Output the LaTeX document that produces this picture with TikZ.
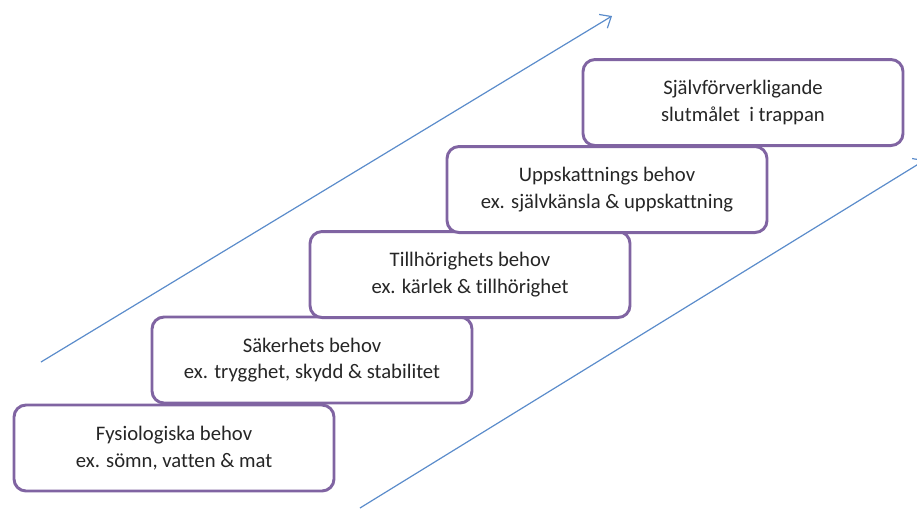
\documentclass[tikz,border=0pt]{standalone}
\usepackage{fontspec}
\setmainfont[Ligatures=NoCommon]{Carlito}
\usetikzlibrary{positioning,arrows.meta}
\definecolor{boxpurple}{HTML}{8064A2}
\definecolor{arrowblue}{HTML}{5B8CCB}

\begin{document}
\begin{tikzpicture}[x=0.75pt, y=-0.75pt,
	stepbox/.style = {draw=boxpurple, line width=2.2pt, rounded corners=9pt, fill=white,
		minimum width=240pt, minimum height=64.5pt, align=center,
		font=\fontsize{15.5}{20}\selectfont, text=black!85},
	trend/.style = {arrowblue, line width=0.9pt, -{Straight Barb[length=7pt, width=12pt]}}]
	\useasboundingbox (0,0) rectangle (917,511);
	\clip (0,0) rectangle (917,511);
	% stairs, bottom step first
	\node[stepbox] (fys) at (174,448) {Fysiologiska behov\\ex. sömn, vatten \& mat};
	\node[stepbox] (sak) [above=-0.7pt of fys, xshift=103.5pt] {Säkerhets behov\\ex. trygghet, skydd \& stabilitet};
	\node[stepbox] (till) [above=-2.6pt of sak, xshift=118.5pt] {Tillhörighets behov\\ex. kärlek \& tillhörighet};
	\node[stepbox] (upp) [above=-2.95pt of till, xshift=102.75pt] {Uppskattnings behov\\ex. självkänsla \& uppskattning};
	\node[stepbox] (sjalv) [above=-1.45pt of upp, xshift=102pt] {Självförverkligande\\slutmålet~ i trappan};
	% arrows along the stairs
	\coordinate (ua) at (41,362);
	\coordinate (ub) at (612,16);
	\coordinate (la) at (360,508);
	\coordinate (lb) at (925,160);
	\draw[trend] (ua) -- (ub);
	\draw[trend] (la) -- (lb);
\end{tikzpicture}
\end{document}
